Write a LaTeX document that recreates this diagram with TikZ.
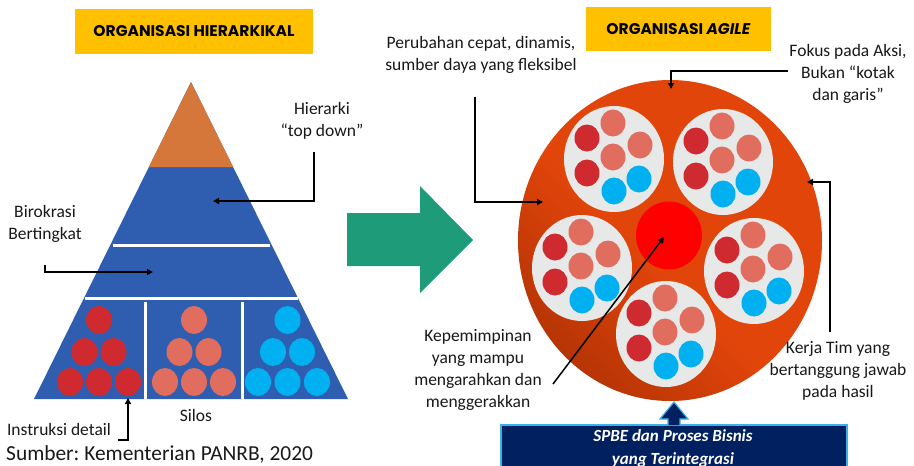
\documentclass[tikz,border=0pt]{standalone}
\usepackage{fontspec}
\setmainfont{Carlito}
\newfontfamily\titlefont{Poppins}
\usetikzlibrary{arrows.meta}
\frenchspacing
\definecolor{gold}{HTML}{FFC000}
\definecolor{pyrorange}{HTML}{D5773B}
\definecolor{pyrblue}{HTML}{2F5EB0}
\definecolor{dred}{HTML}{CF2A30}
\definecolor{salmon}{HTML}{E06D5E}
\definecolor{cyanb}{HTML}{00B0F0}
\definecolor{greenar}{HTML}{1E9C7A}
\definecolor{agbright}{HTML}{E2450A}
\definecolor{agdark}{HTML}{A02C02}
\definecolor{centred}{HTML}{FF0000}
\definecolor{teamgray}{HTML}{E7E8E8}
\definecolor{navy}{HTML}{002060}
\definecolor{boxblue}{HTML}{3DB0E8}
\pgfdeclareverticalshading{agileshade}{100bp}{color(0bp)=(agdark); color(14bp)=(agdark); color(46bp)=(agbright); color(100bp)=(agbright)}
\begin{document}
\begin{tikzpicture}[x=1pt,y=-1pt,
  lbl/.style={font=\fontsize{17.5}{22}\selectfont, align=center, inner sep=0pt, text=black!90},
  ttl/.style={font=\titlefont\fontsize{15.5}{17}\selectfont\bfseries, inner sep=0pt},
  arr/.style={line width=1.5pt, -{Triangle[length=6pt,width=6pt]}},
  sep/.style={draw=white, line width=3pt},
  dot/.style={x radius=13, y radius=14},
  sdot/.style={x radius=12.5, y radius=13.5},
  team/.pic={
    \fill[teamgray] (0,0) ellipse [x radius=50, y radius=53];
    \fill[dred] (-27,-21) ellipse [sdot];
    \fill[dred] (-27,14) ellipse [sdot];
    \fill[salmon] (-1,-36) ellipse [sdot];
    \fill[salmon] (-1,-2) ellipse [sdot];
    \fill[salmon] (26,-14) ellipse [sdot];
    \fill[cyanb] (0,32) ellipse [sdot];
    \fill[cyanb] (25,20) ellipse [sdot];
  }]
\useasboundingbox (0,0) rectangle (914,466);
\fill[white] (0,0) rectangle (914,466);

% ---------- left: hierarchy ----------
\fill[gold] (75,9) rectangle (313,54);
\node[ttl] (t1) at (194,31.5) {ORGANISASI HIERARKIKAL};

\fill[pyrblue] (191,82) -- (348,399) -- (34,399) -- cycle;
\fill[pyrorange] (191,82) -- (233.1,167) -- (148.9,167) -- cycle;
\draw[sep] (112.5,245) -- (269.5,245);
\draw[sep] (84.5,298) -- (297.5,298);
\draw[sep] (145,302) -- (145,399);
\draw[sep] (242,302) -- (242,399);

\foreach \x/\y in {99/320, 84.5/352, 113.5/352, 70/382, 99/382, 128/382}
  \fill[dred] (\x,\y) ellipse [dot];
\foreach \x/\y in {194/320, 179.5/352, 208.5/352, 165/382, 194/382, 223/382}
  \fill[salmon] (\x,\y) ellipse [dot];
\foreach \x/\y in {287.5/320, 273/352, 302/352, 258/382, 287.5/382, 317/382}
  \fill[cyanb] (\x,\y) ellipse [dot];

\node[lbl] (hier) at (322,121) {Hierarki\\“top down”};
\coordinate (hierA) at (314,152);
\coordinate (hierB) at (213,201);
\draw[arr] (hierA) |- (hierB);

\node[lbl] (biro) at (45,224) {Birokrasi\\Bertingkat};
\coordinate (biroA) at (45,265);
\coordinate (biroB) at (153,272);
\draw[arr] (biroA) |- (biroB);

\node[lbl] (instr) at (59,429) {Instruksi detail};
\coordinate (instrA) at (118,440);
\coordinate (instrB) at (128,398);
\draw[arr] (instrA) -| (instrB);

\node[lbl] (silos) at (196,415) {Silos};

\node[font=\fontsize{21.4}{24}\selectfont, anchor=west, inner sep=0pt, text=black!90] (src) at (6,454) {Sumber: Kementerian PANRB, 2020};

% ---------- green arrow ----------
\fill[greenar] (347,213) -- (420,213) -- (420,186) -- (473,240) -- (420,293) -- (420,266) -- (347,266) -- cycle;

% ---------- right: agile ----------
\fill[gold] (586,7) rectangle (771,51);
\node[ttl] (t2) at (678.5,29) {ORGANISASI \textit{AGILE}};

\shade[shading=agileshade, shading angle=-45] (670,240.5) ellipse [x radius=152, y radius=160.5];
\fill[centred] (669,235.5) ellipse [x radius=33, y radius=34];

\pic at (614,159) {team};
\pic at (723,162) {team};
\pic at (582,268) {team};
\pic at (754,271) {team};
\pic at (666,334) {team};

\node[lbl] (perub) at (481,55) {Perubahan cepat, dinamis,\\sumber daya yang fleksibel};
\coordinate (perubA) at (475,97);
\coordinate (perubB) at (543,202);
\draw[arr] (perubA) |- (perubB);

\node[lbl] (fokus) at (848,74) {Fokus pada Aksi,\\Bukan “kotak\\dan garis”};
\coordinate (fokusA) at (788,71);
\coordinate (fokusB) at (671,89);
\draw[arr] (fokusA) -| (fokusB);

\node[lbl] (kerja) at (838,371) {Kerja Tim yang\\bertanggung jawab\\pada hasil};
\coordinate (kerjaA) at (830,332);
\coordinate (kerjaB) at (807,182);
\draw[arr] (kerjaA) |- (kerjaB);

\node[lbl] (kepem) at (478,370) {Kepemimpinan\\yang mampu\\mengarahkan dan\\menggerakkan};
\coordinate (kepemA) at (553,384);
\coordinate (kepemB) at (664,237);
\draw[arr] (kepemA) -- (kepemB);

% ---------- bottom box ----------
\draw[fill=navy, draw=boxblue, line width=1.2pt] (501,425) rectangle (847,480);
\draw[fill=navy, draw=boxblue, line width=1.2pt] (668,425) -- (668,419) -- (660,419) -- (674,402) -- (688,419) -- (680,419) -- (680,425);
\node[font=\fontsize{17}{23}\selectfont\bfseries\itshape, text=white, align=center, inner sep=0pt] (spbe) at (673,448) {SPBE dan Proses Bisnis\\yang Terintegrasi};
\end{tikzpicture}
\end{document}
